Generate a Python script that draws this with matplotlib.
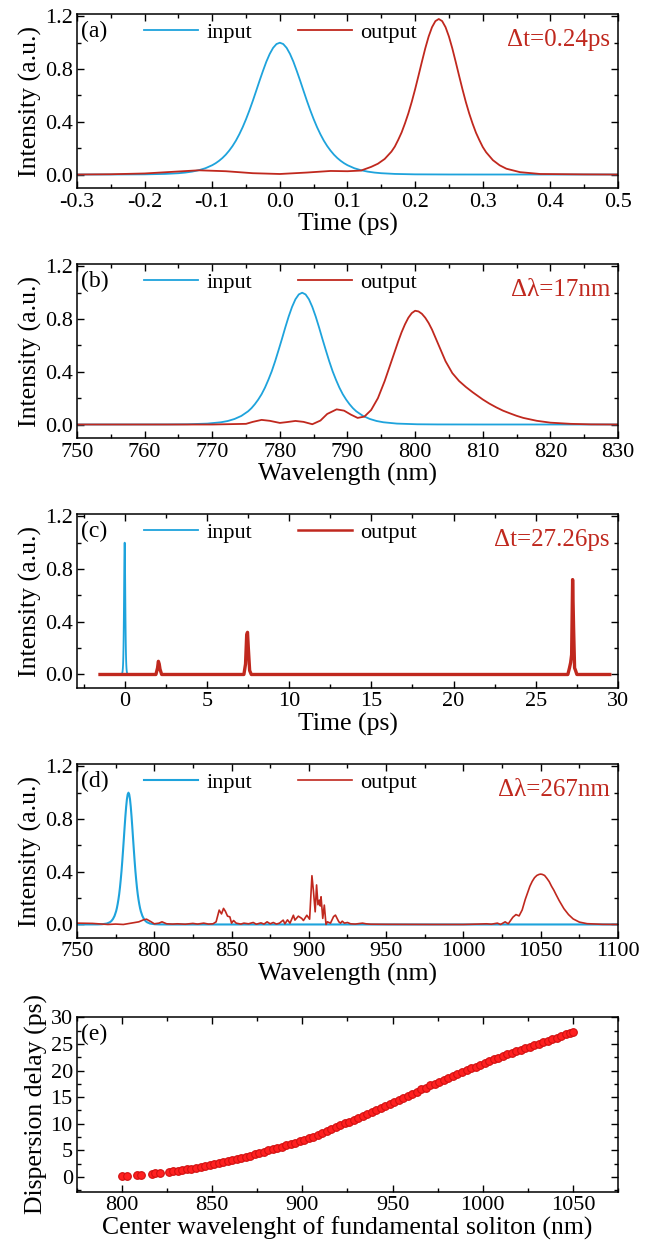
import numpy as np
import matplotlib.pyplot as plt
from matplotlib.ticker import MultipleLocator, FormatStrFormatter

plt.rcParams['font.family'] = ['Liberation Serif', 'DejaVu Serif']
plt.rcParams['axes.unicode_minus'] = False

BLUE = '#1ea3dc'
RED = '#c0281e'

# (a) time domain, short fibre
time_in = [-0.30, -0.25, -0.20, -0.17, -0.15, -0.14, -0.13, -0.12, -0.11, -0.10, -0.095, -0.09,
           -0.085, -0.08, -0.075, -0.07, -0.065, -0.06, -0.055, -0.05, -0.045, -0.04, -0.035,
           -0.03, -0.025, -0.02, -0.015, -0.01, -0.005, 0.0, 0.005, 0.01, 0.015, 0.02, 0.025,
           0.03, 0.035, 0.04, 0.045, 0.05, 0.055, 0.06, 0.065, 0.07, 0.075, 0.08, 0.085, 0.09,
           0.095, 0.10, 0.11, 0.12, 0.13, 0.14, 0.15, 0.17, 0.20, 0.25, 0.30, 0.40, 0.50]
inp_t = [0.0, 0.0002, 0.0013, 0.0045, 0.0099, 0.0147, 0.0218, 0.0324, 0.0479, 0.0707, 0.0856, 0.1036,
         0.125, 0.1505, 0.181, 0.216, 0.257, 0.305, 0.359, 0.42, 0.487, 0.559, 0.635,
         0.712, 0.786, 0.856, 0.915, 0.961, 0.99, 1.0, 0.99, 0.961, 0.915, 0.856, 0.786,
         0.712, 0.635, 0.559, 0.487, 0.42, 0.359, 0.305, 0.257, 0.216, 0.181, 0.1505, 0.125, 0.1036,
         0.0856, 0.0707, 0.0479, 0.0324, 0.0218, 0.0147, 0.0099, 0.0045, 0.0013, 0.0002, 0.0, 0.0, 0.0]

time_out_a = [-0.30, -0.25, -0.20, -0.16, -0.12, -0.08, -0.04, 0.0, 0.04, 0.075, 0.10, 0.12,
              0.135, 0.145, 0.155, 0.165, 0.17, 0.175, 0.18, 0.185, 0.19, 0.195, 0.2, 0.205,
              0.21, 0.215, 0.22, 0.225, 0.23, 0.235, 0.24, 0.245, 0.25, 0.255, 0.26, 0.265,
              0.27, 0.275, 0.28, 0.285, 0.29, 0.295, 0.3, 0.305, 0.315, 0.325, 0.335, 0.355,
              0.385, 0.45, 0.50]
out_a = [0.0, 0.002, 0.008, 0.02, 0.032, 0.025, 0.01, 0.004, 0.015, 0.027, 0.025, 0.03,
         0.058, 0.082, 0.118, 0.174, 0.212, 0.263, 0.319, 0.388, 0.464, 0.551, 0.647, 0.750,
         0.855, 0.957, 1.047, 1.118, 1.164, 1.18, 1.164, 1.118, 1.047, 0.957, 0.855, 0.750,
         0.647, 0.550, 0.463, 0.386, 0.317, 0.261, 0.209, 0.169, 0.109, 0.070, 0.044, 0.018,
         0.004, 0.001, 0.0]

# (b) spectrum, short fibre
wl_in = [750, 760, 763.3, 766.3, 769.3, 771.3, 772.3, 773.3, 774.3, 775.3, 775.8, 776.3, 776.8,
         777.3, 777.8, 778.3, 778.8, 779.3, 779.8, 780.3, 780.8, 781.3, 781.8, 782.3, 782.8,
         783.3, 783.8, 784.3, 784.8, 785.3, 785.8, 786.3, 786.8, 787.3, 787.8, 788.3, 788.8,
         789.3, 789.8, 790.3, 790.8, 791.3, 792.3, 793.3, 794.3, 795.3, 797.3, 800.3, 803.3,
         810, 830]
inp_wl = [0.0, 0.0003, 0.0005, 0.0018, 0.0069, 0.017, 0.0266, 0.042, 0.065, 0.10, 0.124, 0.154, 0.189,
          0.23, 0.28, 0.339, 0.404, 0.48, 0.563, 0.648, 0.736, 0.819, 0.892, 0.95, 0.987,
          1.0, 0.987, 0.95, 0.892, 0.819, 0.736, 0.648, 0.563, 0.48, 0.404, 0.339, 0.28,
          0.23, 0.189, 0.154, 0.124, 0.10, 0.065, 0.042, 0.0266, 0.017, 0.0069, 0.0018, 0.0005,
          0.0, 0.0]

wl_out_b = [750, 770, 775, 776, 777.3, 778.5, 780, 781, 782.3, 783.5, 784.8, 786, 787, 788.4,
            789.5, 790.5, 791.5, 792.5, 793.5, 794.5, 795.5, 796.5, 797.5, 798, 798.5, 799,
            799.5, 800, 800.5, 801, 801.5, 802, 802.5, 803, 803.5, 804, 804.5, 805.5, 806.5,
            807.5, 808.5, 810, 811, 812, 813, 814, 815, 816, 818, 820, 823, 826, 830]
out_b = [0.0, 0.0, 0.005, 0.02, 0.035, 0.028, 0.012, 0.018, 0.027, 0.02, 0.002, 0.03, 0.08, 0.115,
         0.105, 0.075, 0.05, 0.06, 0.11, 0.2, 0.33, 0.48, 0.63, 0.70, 0.76, 0.81,
         0.845, 0.863, 0.858, 0.84, 0.81, 0.77, 0.72, 0.66, 0.6, 0.54, 0.48, 0.39, 0.33,
         0.285, 0.245, 0.19, 0.158, 0.13, 0.105, 0.085, 0.066, 0.05, 0.028, 0.014, 0.005, 0.001, 0.0]

# (c) time domain, long fibre
time_out_c = [-1.5, 1.9, 2.0, 2.05, 2.1, 2.15, 2.25, 7.25, 7.35, 7.42, 7.47, 7.52, 7.6, 7.7,
              26.95, 27.05, 27.12, 27.18, 27.24, 27.3, 27.36, 27.42, 27.5, 29.5]
out_c = [0.0, 0.0, 0.05, 0.1, 0.08, 0.04, 0.0, 0.0, 0.08, 0.3, 0.32, 0.2, 0.03, 0.0,
         0.0, 0.05, 0.09, 0.15, 0.72, 0.35, 0.05, 0.03, 0.0, 0.0]

# (d) spectrum, long fibre
wl_out_d = [750, 760, 770, 775, 780, 785, 790, 793, 795, 798, 800, 803, 805, 808, 812, 815, 820,
            825, 828, 832, 835, 838, 840, 842, 843.5, 844.8, 846, 847.4, 848.9, 850, 851.3, 853,
            856, 858, 861, 864, 866, 869, 871, 873, 875, 877, 879, 881, 883.4, 884.5, 886.2,
            887.8, 890, 891, 893.2, 895.4, 896.5, 898.7, 900.5, 902, 903, 904.1, 905, 905.9,
            906.8, 907.4, 907.9, 909, 910, 911.1, 912, 914, 916, 917.2, 919.4, 920.5, 921.6,
            923, 925, 927, 930, 934.7, 937, 940, 950, 980, 1000, 1010, 1015, 1018, 1020, 1022,
            1024, 1027, 1029, 1032, 1034, 1036, 1038, 1040, 1041.5, 1043, 1044.5, 1046, 1047.5,
            1049, 1050, 1051, 1052.5, 1054, 1055.5, 1057, 1058.5, 1060, 1062, 1065, 1068, 1071,
            1075, 1080, 1090, 1100]
out_d = [0.01, 0.008, 0.0, 0.003, 0.0, 0.01, 0.02, 0.035, 0.04, 0.02, 0.005, 0.01, 0.02, 0.005,
         0.003, 0.005, 0.002, 0.008, 0.003, 0.01, 0.003, 0.005, 0.02, 0.109, 0.08, 0.122, 0.1,
         0.063, 0.058, 0.01, 0.03, 0.01, 0.003, 0.01, 0.005, 0.015, 0.002, 0.012, 0.003, 0.02,
         0.005, 0.015, 0.003, 0.01, 0.033, 0.005, 0.035, 0.01, 0.07, 0.033, 0.063, 0.046, 0.03,
         0.07, 0.04, 0.37, 0.25, 0.096, 0.3, 0.15, 0.185, 0.14, 0.21, 0.046, 0.147, 0.0, 0.02,
         0.01, 0.06, 0.071, 0.02, 0.01, 0.025, 0.01, 0.015, 0.005, 0.003, 0.01, 0.005, 0.002,
         0.001, 0.0, 0.0, 0.003, 0.005, 0.002, 0.006, 0.01, 0.0, 0.02, 0.005, 0.055, 0.075,
         0.065, 0.11, 0.19, 0.24, 0.29, 0.327, 0.355, 0.372, 0.38, 0.382, 0.38, 0.372, 0.35,
         0.325, 0.29, 0.26, 0.225, 0.18, 0.12, 0.075, 0.042, 0.018, 0.006, 0.001, 0.0]

# (e) dispersion delay vs soliton centre wavelength
soliton_wl = [800, 802.5, 808.5, 810.5, 816.5, 818.5, 821, 826, 828.5, 831, 833.5, 836, 838.5,
              841, 843.5, 846, 848.5, 851, 853.5, 856, 858.5, 861, 863.5, 866, 868.5, 871, 873.5,
              876, 878.5, 881, 883.5, 886, 888.5, 891, 893.5, 896, 898.5, 901, 903.5, 906, 908.5,
              911, 913.5, 916, 918.5, 921, 923.5, 926, 928.5, 931, 933.5, 936, 938.5, 941, 943.5,
              946, 948.5, 951, 953.5, 956, 958.5, 961, 963.5, 966, 968.5, 971, 973.5, 976, 978.5,
              981, 983.5, 986, 988.5, 991, 993.5, 996, 998.5, 1001, 1003.5, 1006, 1008.5, 1011,
              1013.5, 1016, 1018.5, 1021, 1023.5, 1026, 1028.5, 1031, 1033.5, 1036, 1038.5, 1041,
              1043.5, 1046, 1048.5, 1050]
delay = [0.2, 0.25, 0.4, 0.45, 0.62, 0.68, 0.78, 0.95, 1.05, 1.2, 1.3, 1.42, 1.55,
         1.7, 1.85, 2.0, 2.2, 2.35, 2.55, 2.75, 2.95, 3.15, 3.35, 3.55, 3.8, 4.0, 4.25,
         4.5, 4.75, 5.0, 5.2, 5.45, 5.7, 5.95, 6.2, 6.45, 6.7, 7.0, 7.3, 7.6, 7.9,
         8.25, 8.6, 8.95, 9.3, 9.7, 10.05, 10.4, 10.75, 11.1, 11.45, 11.8, 12.15, 12.5, 12.9,
         13.3, 13.7, 14.05, 14.45, 14.85, 15.25, 15.65, 16.05, 16.45, 16.8, 17.2, 17.55, 17.9, 18.3,
         18.65, 19.0, 19.35, 19.7, 20.05, 20.4, 20.75, 21.1, 21.45, 21.75, 22.1, 22.4, 22.75,
         23.05, 23.35, 23.65, 23.95, 24.2, 24.5, 24.75, 25.05, 25.35, 25.6, 25.9, 26.2,
         26.5, 26.8, 27.05, 27.3]

TICK_FS = 16
LABEL_FS = 18.5
LEG_FS = 16
NOTE_FS = 18

fig = plt.figure(figsize=(6.48, 12.4), dpi=100)
left, width, height = 0.1188, 0.8349, 0.1403
bottoms = [0.8481, 0.6465, 0.4449, 0.2433, 0.0390]


def style_axes(ax, xmajor, xminor, ymajor, yminor):
    ax.xaxis.set_major_locator(MultipleLocator(xmajor))
    ax.xaxis.set_minor_locator(MultipleLocator(xminor))
    ax.yaxis.set_major_locator(MultipleLocator(ymajor))
    ax.yaxis.set_minor_locator(MultipleLocator(yminor))
    ax.tick_params(which='both', direction='in', top=True, right=True, labelsize=TICK_FS,
                   width=1.0, pad=3)
    ax.tick_params(which='major', length=5)
    ax.tick_params(which='minor', length=3)
    for s in ax.spines.values():
        s.set_linewidth(1.1)


def intensity_panel(ax, tag, note):
    ax.set_ylim(-0.105, 1.215)
    ax.yaxis.set_major_formatter(FormatStrFormatter('%.1f'))
    ax.set_ylabel('Intensity (a.u.)', fontsize=LABEL_FS, labelpad=2)
    ax.text(0.008, 0.9, tag, transform=ax.transAxes, fontsize=LEG_FS + 1, va='center', ha='left')
    ax.text(0.985, 0.855, note, transform=ax.transAxes, fontsize=NOTE_FS, va='center', ha='right',
            color=RED)
    ax.legend(loc='center left', bbox_to_anchor=(0.124, 0.895), ncol=2, frameon=False,
              fontsize=LEG_FS, handlelength=2.43, handletextpad=0.36, columnspacing=2.1,
              borderpad=0, borderaxespad=0)


# (a)
ax = fig.add_axes([left, bottoms[0], width, height])
ax.plot(time_in, inp_t, color=BLUE, lw=1.3, label='input')
ax.plot(time_out_a, out_a, color=RED, lw=1.3, label='output')
ax.set_xlim(-0.3, 0.5)
style_axes(ax, 0.1, 0.05, 0.4, 0.2)
ax.xaxis.set_major_formatter(FormatStrFormatter('%.1f'))
ax.set_xlabel('Time (ps)', fontsize=LABEL_FS, labelpad=1)
intensity_panel(ax, '(a)', '\u0394t=0.24ps')

# (b)
ax = fig.add_axes([left, bottoms[1], width, height])
ax.plot(wl_in, inp_wl, color=BLUE, lw=1.3, label='input')
ax.plot(wl_out_b, out_b, color=RED, lw=1.3, label='output')
ax.set_xlim(750, 830)
style_axes(ax, 10, 5, 0.4, 0.2)
ax.set_xlabel('Wavelength (nm)', fontsize=LABEL_FS, labelpad=1)
intensity_panel(ax, '(b)', '\u0394\u03bb=17nm')

# (c)
ax = fig.add_axes([left, bottoms[2], width, height])
ax.plot(time_in, inp_t, color=BLUE, lw=1.3, label='input')
ax.plot(time_out_c, out_c, color=RED, lw=2.4, label='output')
ax.set_xlim(-2.9, 30)
style_axes(ax, 5, 2.5, 0.4, 0.2)
ax.set_xlabel('Time (ps)', fontsize=LABEL_FS, labelpad=1)
intensity_panel(ax, '(c)', '\u0394t=27.26ps')
ax.get_legend().get_lines()[1].set_linewidth(1.8)

# (d)
ax = fig.add_axes([left, bottoms[3], width, height])
ax.plot(wl_in + [1100], inp_wl + [0.0], color=BLUE, lw=1.5, label='input')
ax.plot(wl_out_d, out_d, color=RED, lw=1.2, label='output')
ax.set_xlim(750, 1100)
style_axes(ax, 50, 25, 0.4, 0.2)
ax.set_xlabel('Wavelength (nm)', fontsize=LABEL_FS, labelpad=1)
intensity_panel(ax, '(d)', '\u0394\u03bb=267nm')

# (e)
ax = fig.add_axes([left, bottoms[4], width, 0.1406])
ax.plot(soliton_wl, delay, 'o', ms=5.5, mfc='#ff2020', mec='#d01010', mew=0.8, ls='none')
ax.set_xlim(775, 1075)
ax.set_ylim(-2.75, 30)
style_axes(ax, 50, 25, 5, 2.5)
ax.set_xlabel('Center wavelenght of fundamental soliton (nm)', fontsize=LABEL_FS, labelpad=1)
ax.set_ylabel('Dispersion delay (ps)', fontsize=LABEL_FS, labelpad=2)
ax.text(0.008, 0.9, '(e)', transform=ax.transAxes, fontsize=LEG_FS + 1, va='center', ha='left')

fig.savefig('out.png', dpi=100)
